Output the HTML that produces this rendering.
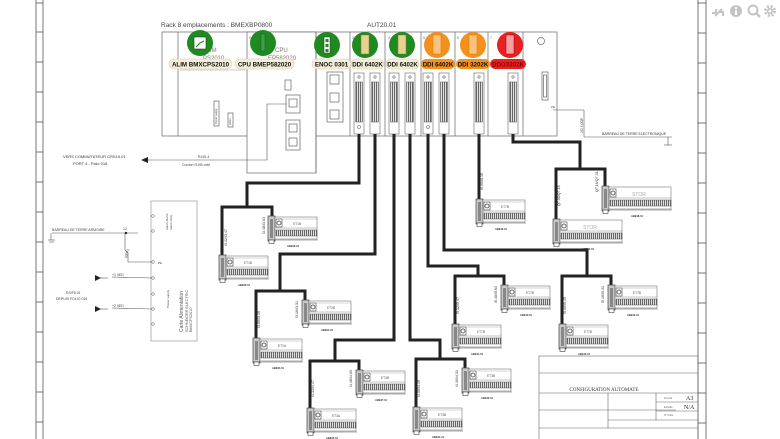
<!DOCTYPE html>
<html><head><meta charset="utf-8"><style>
html,body{margin:0;padding:0;background:#fff;}
svg{display:block;font-family:"Liberation Sans",sans-serif;}
</style></head><body>
<svg width="780" height="439" viewBox="0 0 780 439" xmlns="http://www.w3.org/2000/svg">
<defs>
<pattern id="hat" width="2" height="6" patternUnits="userSpaceOnUse"><rect width="2" height="6" fill="#fff"/><rect width="1.2" height="6" fill="#666"/></pattern>
<pattern id="hat2" width="10" height="2" patternUnits="userSpaceOnUse"><rect width="10" height="2" fill="#fff"/><rect width="10" height="1" fill="#888"/></pattern>
<symbol id="m" viewBox="0 0 50 28" width="50" height="28" overflow="visible">
<rect x="0" y="0" width="7" height="25" fill="#c8c8c8" stroke="#444" stroke-width="0.7"/>
<rect x="2" y="3" width="3" height="19" fill="#888"/>
<rect x="7" y="1" width="42" height="22" fill="#fff" stroke="#777" stroke-width="0.6"/>
<rect x="8" y="3" width="6" height="8" fill="#fff" stroke="#444" stroke-width="0.6"/>
<circle cx="11" cy="7" r="2" fill="none" stroke="#333" stroke-width="0.7"/>
<line x1="14" y1="3" x2="49" y2="3" stroke="#aaa" stroke-width="0.5"/>
<line x1="7" y1="12" x2="49" y2="12" stroke="#888" stroke-width="0.5"/>
<rect x="8" y="14" width="41" height="6" fill="url(#hat)" stroke="#555" stroke-width="0.5"/>
<line x1="0" y1="24" x2="50" y2="24" stroke="#555" stroke-width="0.6"/>
<rect x="1" y="24" width="5" height="3.5" fill="#fff" stroke="#444" stroke-width="0.6"/>
</symbol>
<symbol id="mw" viewBox="0 0 70 28" width="70" height="28" overflow="visible">
<rect x="0" y="0" width="7" height="25" fill="#c8c8c8" stroke="#444" stroke-width="0.7"/>
<rect x="2" y="3" width="3" height="19" fill="#888"/>
<rect x="7" y="1" width="62" height="22" fill="#fff" stroke="#777" stroke-width="0.6"/>
<rect x="8" y="3" width="6" height="8" fill="#fff" stroke="#444" stroke-width="0.6"/>
<circle cx="11" cy="7" r="2" fill="none" stroke="#333" stroke-width="0.7"/>
<line x1="7" y1="12" x2="69" y2="12" stroke="#888" stroke-width="0.5"/>
<rect x="8" y="14" width="61" height="6" fill="url(#hat)" stroke="#555" stroke-width="0.5"/>
<line x1="0" y1="24" x2="70" y2="24" stroke="#555" stroke-width="0.6"/>
<rect x="1" y="24" width="5" height="3.5" fill="#fff" stroke="#444" stroke-width="0.6"/>
</symbol>
</defs>

<!-- frame strips -->
<g stroke="#555" stroke-width="0.8" fill="none">
<line x1="36" y1="0" x2="36" y2="439"/><line x1="43" y1="0" x2="43" y2="439"/>
<line x1="36" y1="3" x2="43" y2="3"/><line x1="36" y1="32" x2="43" y2="32"/><line x1="36" y1="62" x2="43" y2="62"/><line x1="36" y1="92" x2="43" y2="92"/><line x1="36" y1="122" x2="43" y2="122"/><line x1="36" y1="152" x2="43" y2="152"/><line x1="36" y1="182" x2="43" y2="182"/><line x1="36" y1="212" x2="43" y2="212"/><line x1="36" y1="242" x2="43" y2="242"/><line x1="36" y1="272" x2="43" y2="272"/><line x1="36" y1="302" x2="43" y2="302"/><line x1="36" y1="332" x2="43" y2="332"/><line x1="36" y1="362" x2="43" y2="362"/><line x1="36" y1="392" x2="43" y2="392"/><line x1="36" y1="422" x2="43" y2="422"/>
<line x1="698" y1="0" x2="698" y2="439"/><line x1="706" y1="0" x2="706" y2="439"/>
<line x1="698" y1="3" x2="706" y2="3"/><line x1="698" y1="33" x2="706" y2="33"/><line x1="698" y1="63" x2="706" y2="63"/><line x1="698" y1="93" x2="706" y2="93"/><line x1="698" y1="123" x2="706" y2="123"/><line x1="698" y1="153" x2="706" y2="153"/><line x1="698" y1="183" x2="706" y2="183"/><line x1="698" y1="213" x2="706" y2="213"/><line x1="698" y1="243" x2="706" y2="243"/><line x1="698" y1="273" x2="706" y2="273"/><line x1="698" y1="303" x2="706" y2="303"/><line x1="698" y1="333" x2="706" y2="333"/><line x1="698" y1="363" x2="706" y2="363"/><line x1="698" y1="393" x2="706" y2="393"/><line x1="698" y1="423" x2="706" y2="423"/>
</g>

<!-- toolbar icons -->
<g fill="#c4c4c4" stroke="#c4c4c4">
<path d="M715 16 L722 9 M716 9 L716 13 L712 13 M719 12 L723 12 L723 16" stroke-width="2" fill="none"/>
<circle cx="736" cy="11" r="6" stroke="none"/>
<rect x="735" y="10" width="2" height="5" fill="#fff" stroke="none"/><rect x="735" y="7" width="2" height="2" fill="#fff" stroke="none"/>
<circle cx="753" cy="10" r="4.5" fill="none" stroke-width="2"/><line x1="756" y1="13" x2="760" y2="17" stroke-width="2.5"/>
<circle cx="770" cy="11" r="4.5" fill="none" stroke-width="3" stroke-dasharray="2 1.6"/><circle cx="770" cy="11" r="3" stroke="none"/><circle cx="770" cy="11" r="1.4" fill="#fff" stroke="none"/>
</g>

<!-- rack -->
<text x="161" y="27" font-size="6.5" fill="#444">Rack 8 emplacements : BMEXBP0800</text>
<text x="367" y="27" font-size="6.5" fill="#444">AUT20.01</text>
<g stroke="#666" stroke-width="0.7" fill="#fff">
<rect x="162" y="32" width="395" height="104"/>
<rect x="247" y="32" width="69" height="141"/>
<line x1="178" y1="32" x2="178" y2="136"/>
<line x1="316" y1="32" x2="316" y2="173"/>
<line x1="350" y1="32" x2="350" y2="136"/><line x1="385" y1="32" x2="385" y2="136"/><line x1="421" y1="32" x2="421" y2="136"/><line x1="455" y1="32" x2="455" y2="136"/><line x1="488" y1="32" x2="488" y2="136"/><line x1="523" y1="32" x2="523" y2="136"/>
<line x1="180" y1="70" x2="245" y2="70" stroke="#bbb"/>
<rect x="214" y="101" width="5" height="25"/><rect x="228" y="113" width="5" height="14"/>
<rect x="285" y="80" width="6" height="10"/>
<rect x="286" y="95" width="14" height="18"/><rect x="289" y="99" width="8" height="8"/>
<rect x="286" y="120" width="14" height="30"/><rect x="289" y="124" width="8" height="8"/><rect x="289" y="138" width="8" height="8"/>
<rect x="327" y="72" width="16" height="50"/><rect x="330" y="75" width="9" height="9"/><rect x="330" y="93" width="9" height="9"/><rect x="330" y="110" width="9" height="9"/>
<circle cx="541" cy="41" r="3.5"/>
<rect x="542" y="72" width="6" height="28"/><rect x="543.5" y="75" width="3" height="22"/>
</g>
<text x="217" y="124" font-size="2.6" fill="#444" transform="rotate(-90 217 124)">Power supply</text>
<text x="231" y="125" font-size="2.6" fill="#444" transform="rotate(-90 231 125)">Alarm</text>
<text x="210" y="52" font-size="6" fill="#777">IM</text>
<text x="203" y="60" font-size="6" fill="#777">PS2010</text>
<text x="275" y="52" font-size="6" fill="#777">CPU</text>
<text x="268" y="60" font-size="6" fill="#777">EP582020</text>
<g font-size="3.5" fill="#666"><text x="352" y="39">3</text><text x="388" y="39">4</text><text x="423" y="39">5</text><text x="457" y="39">6</text><text x="490" y="39">7</text><text x="318" y="39">2</text><text x="249" y="39">0</text></g>
<!-- slot connectors -->
<g stroke="#666" stroke-width="0.6" fill="#fff">
<g id="c"><rect x="354" y="73" width="10" height="61"/><rect x="355.5" y="82" width="7" height="40" fill="url(#hat)"/><circle cx="359" cy="77" r="1.2"/><circle cx="359" cy="127" r="1.5"/></g>
<rect x="370" y="73" width="10" height="61"/><rect x="371.5" y="82" width="7" height="40" fill="url(#hat)"/><circle cx="375" cy="77" r="1.2"/>
<rect x="389" y="73" width="10" height="61"/><rect x="390.5" y="82" width="7" height="40" fill="url(#hat)"/><circle cx="394" cy="77" r="1.2"/>
<rect x="405" y="73" width="10" height="61"/><rect x="406.5" y="82" width="7" height="40" fill="url(#hat)"/><circle cx="410" cy="77" r="1.2"/>
<rect x="423" y="73" width="10" height="61"/><rect x="424.5" y="82" width="7" height="40" fill="url(#hat)"/><circle cx="428" cy="77" r="1.2"/><circle cx="428" cy="127" r="1.5"/>
<rect x="439" y="73" width="10" height="61"/><rect x="440.5" y="82" width="7" height="40" fill="url(#hat)"/><circle cx="444" cy="77" r="1.2"/>
<rect x="474" y="73" width="10" height="61"/><rect x="475.5" y="82" width="7" height="40" fill="url(#hat)"/><circle cx="479" cy="77" r="1.2"/>
<rect x="508" y="73" width="10" height="61"/><rect x="509.5" y="82" width="7" height="40" fill="url(#hat)"/><circle cx="513" cy="77" r="1.2"/>
</g>
<!-- circles -->
<circle cx="200" cy="43" r="13" fill="#1f8a1f"/><rect x="194" y="37" width="12" height="12" fill="#fff" stroke="#333" stroke-width="0.6"/><path d="M196 47 L200 43 L204 41" stroke="#1f8a1f" stroke-width="1.2" fill="none"/>
<circle cx="263" cy="43" r="13" fill="#1f8a1f"/><rect x="261" y="34" width="4" height="17" fill="#3fa03f" stroke="#145" stroke-width="0.4"/>
<circle cx="327" cy="45" r="13" fill="#1f8a1f"/><rect x="324" y="37" width="6" height="16" fill="#fff" stroke="#333" stroke-width="0.5"/><rect x="325.5" y="39" width="3" height="3" fill="#1f8a1f"/><rect x="325.5" y="44" width="3" height="3" fill="#1f8a1f"/><rect x="325.5" y="49" width="3" height="3" fill="#1f8a1f"/>
<g fill="#e6d28c" stroke="#8a7a3a" stroke-width="0.5">
<circle cx="365" cy="45" r="13" fill="#1f8a1f" stroke="none"/><rect x="361" y="35" width="8" height="19"/>
<circle cx="402" cy="45" r="13" fill="#1f8a1f" stroke="none"/><rect x="398" y="35" width="8" height="19"/>
</g>
<g fill="#fbc27a" stroke="#c77a20" stroke-width="0.5">
<circle cx="437" cy="45" r="13" fill="#f5901a" stroke="none"/><rect x="433" y="35" width="8" height="19"/>
<circle cx="473" cy="45" r="13" fill="#f5901a" stroke="none"/><rect x="469" y="35" width="8" height="19"/>
</g>
<circle cx="510" cy="45" r="13" fill="#e82020"/><rect x="506" y="35" width="8" height="19" fill="#f8a0a0" stroke="#a00" stroke-width="0.5"/>
<!-- label pills -->
<g font-size="6.2" font-weight="bold" text-anchor="middle">
<rect x="169" y="59" width="63" height="10" rx="5" fill="#f4eed8" stroke="#d8cfa8" stroke-width="0.6"/><text x="200.5" y="66.5" fill="#111">ALIM BMXCPS2010</text>
<rect x="235" y="59" width="59" height="10" rx="5" fill="#f4eed8" stroke="#d8cfa8" stroke-width="0.6"/><text x="264.5" y="66.5" fill="#111">CPU BMEP582020</text>
<rect x="312" y="59" width="39" height="10" rx="5" fill="#f4eed8" stroke="#d8cfa8" stroke-width="0.6"/><text x="331.5" y="66.5" fill="#111">ENOC 0301</text>
<rect x="351" y="59" width="33" height="10" rx="5" fill="#f4eed8" stroke="#d8cfa8" stroke-width="0.6"/><text x="367.5" y="66.5" fill="#111">DDI 6402K</text>
<rect x="386" y="59" width="33" height="10" rx="5" fill="#f4eed8" stroke="#d8cfa8" stroke-width="0.6"/><text x="402.5" y="66.5" fill="#111">DDI 6402K</text>
<rect x="421" y="59" width="34" height="10" rx="5" fill="#f5901a"/><text x="438" y="66.5" fill="#111">DDI 6402K</text>
<rect x="456" y="59" width="34" height="10" rx="5" fill="#f5901a"/><text x="473" y="66.5" fill="#111">DDI 3202K</text>
<rect x="490" y="59" width="36" height="10" rx="5" fill="#e82020"/><text x="508" y="66.5" fill="#8a0000">DDO3202K</text>
</g>

<!-- earth electronics -->
<g stroke="#555" stroke-width="0.6" fill="none">
<line x1="553" y1="110" x2="584" y2="110"/><line x1="584" y1="110" x2="584" y2="137"/>
<line x1="584" y1="137" x2="672" y2="137"/><line x1="668" y1="137" x2="668" y2="145"/><line x1="664" y1="145" x2="672" y2="145"/>
</g>
<text x="551" y="108" font-size="3" fill="#444">PE</text>
<text x="583" y="133" font-size="3.5" fill="#444" transform="rotate(-90 583 133)">2G 4,0DP</text>
<text x="602" y="135" font-size="3.5" fill="#333">BARREAU DE TERRE ELECTRONIQUE</text>

<!-- RJ45 link -->
<g stroke="#555" stroke-width="0.6" fill="none">
<polyline points="287,104 267,104 267,160 148,160"/>
</g>
<path d="M141 160 L148 157 L148 163 Z" fill="#222"/>
<text x="63" y="158" font-size="4" fill="#333">VERS COMMUTATEUR CRS15.01</text>
<text x="73" y="165" font-size="4" fill="#333">PORT 4 - Folio 018</text>
<text x="198" y="158" font-size="3.5" fill="#444">RJ45-4</text>
<text x="182" y="166" font-size="3.5" fill="#444">Cordon RJ45 coté</text>

<!-- power box -->
<rect x="151" y="201" width="46" height="140" fill="#fff" stroke="#888" stroke-width="0.6"/>
<g fill="#fff" stroke="#555" stroke-width="0.5">
<circle cx="153" cy="216" r="1.3"/><circle cx="153" cy="231" r="1.3"/><circle cx="153" cy="262" r="1.3"/><circle cx="153" cy="278" r="1.3"/><circle cx="153" cy="294" r="1.3"/><circle cx="153" cy="309" r="1.3"/><circle cx="153" cy="324" r="1.3"/>
</g>
<g stroke="#555" stroke-width="0.6" fill="none">
<line x1="52" y1="233" x2="138" y2="233"/><line x1="51" y1="233" x2="51" y2="240"/><line x1="48" y1="240" x2="55" y2="240"/><line x1="49" y1="242" x2="54" y2="242"/>
<polyline points="125,233 125,250 128,253 128,262 152,262"/>
<line x1="96" y1="278" x2="108" y2="278"/><line x1="112" y1="277" x2="152" y2="278"/>
<line x1="96" y1="309" x2="108" y2="309"/><line x1="112" y1="308" x2="152" y2="309"/>
</g>
<circle cx="126" cy="233" r="1.2" fill="#222"/>
<path d="M95 275 L101 278 L95 281 Z" fill="#222"/><path d="M95 306 L101 309 L95 312 Z" fill="#222"/>
<text x="52" y="231" font-size="3.5" fill="#444">BARREAU DE TERRE ARMOIRE</text>
<text x="123" y="230" font-size="3.5" fill="#444">12</text>
<text x="117" y="255" font-size="3.5" fill="#444" transform="rotate(-75 124 250)">REP2</text>
<text x="112" y="276" font-size="3.5" fill="#444">+1 /IED</text>
<text x="112" y="307" font-size="3.5" fill="#444">+2 /IED</text>
<text x="66" y="294" font-size="3.5" fill="#444">ES/F8.01</text>
<text x="56" y="300" font-size="3.5" fill="#444">DEPUIS FOLIO 016</text>
<text x="158" y="264" font-size="3" fill="#444">PE</text>
<text x="168" y="230" font-size="3" fill="#444" transform="rotate(-90 168 230)">Alarm Alarm</text>
<text x="172" y="230" font-size="3" fill="#444" transform="rotate(-90 172 230)">Alarm relay</text>
<text x="169" y="308" font-size="3" fill="#444" transform="rotate(-90 169 308)">Power supply</text>
<text x="183" y="332" font-size="5" fill="#555" transform="rotate(-90 183 332)">Carte Alimentation</text>
<text x="188" y="332" font-size="3.8" fill="#555" transform="rotate(-90 188 332)">SCHNEIDER ELECTRIC</text>
<text x="192" y="332" font-size="3.8" fill="#555" transform="rotate(-90 192 332)">BMXCPS2010</text>

<!-- cables -->
<g stroke="#222" stroke-width="3" fill="none" stroke-linejoin="miter">
<polyline points="359,134 359,183 247,183 247,207"/><polyline points="222,258 222,207 272,207 272,218"/>
<polyline points="375,134 375,254 280,254 280,291"/><polyline points="256,341 256,291 305,291 305,302"/>
<polyline points="394,134 394,340 335,340 335,361"/><polyline points="310,410 310,361 359,361 359,372"/>
<polyline points="410,134 410,340 440,340 440,359"/><polyline points="416,409 416,359 465,359 465,370"/>
<polyline points="428,134 428,266 478,266 478,276"/><polyline points="455,326 455,276 504,276 504,287"/>
<polyline points="444,134 444,250 587,250 587,276"/><polyline points="562,326 562,276 611,276 611,287"/>
<polyline points="479,134 479,201"/>
<polyline points="513,134 513,142 580,142 580,169"/><polyline points="556,221 556,169 605,169 605,188"/>
</g>
<!-- cable labels -->
<g font-size="3.6" fill="#333">
<text transform="translate(227,246) rotate(-90)">I3,32/I3,47</text>
<text transform="translate(265,234) rotate(-90)">I3,48/I3,63</text>
<text transform="translate(260,328) rotate(-90)">I3,00/I3,15</text>
<text transform="translate(298,318) rotate(-90)">I3,16/I3,31</text>
<text transform="translate(314,397) rotate(-90)">I4,32/I4,47</text>
<text transform="translate(352,387) rotate(-90)">I4,48/I4,63</text>
<text transform="translate(420,397) rotate(-90)">I4,00/I4,15</text>
<text transform="translate(458,387) rotate(-90)">I4,16/I4,31</text>
<text transform="translate(459,314) rotate(-90)">I5,32/I5,47</text>
<text transform="translate(497,303) rotate(-90)">I5,48/I5,63</text>
<text transform="translate(566,314) rotate(-90)">I5,00/I5,15</text>
<text transform="translate(604,303) rotate(-90)">I5,16/I5,31</text>
<text transform="translate(483,190) rotate(-90)">I6,00/I6,15</text>
<text transform="translate(560,206) rotate(-90)">Q7,00/Q7,15</text>
<text transform="translate(598,192) rotate(-90)">Q7,16/Q7,31</text>
</g>
<!-- modules -->
<use href="#m" x="219" y="255"/><use href="#m" x="268" y="216"/>
<use href="#m" x="253" y="338"/><use href="#m" x="302" y="300"/>
<use href="#m" x="307" y="408"/><use href="#m" x="356" y="370"/>
<use href="#m" x="413" y="407"/><use href="#m" x="462" y="368"/>
<use href="#m" x="452" y="324"/><use href="#m" x="501" y="285"/>
<use href="#m" x="559" y="324"/><use href="#m" x="608" y="285"/>
<use href="#m" x="476" y="199"/>
<use href="#mw" x="553" y="219"/><use href="#mw" x="602" y="186"/>
<g font-size="3.2" fill="#555" text-anchor="middle">
<text x="248" y="264">ET1B</text><text x="297" y="225">ET1B</text>
<text x="282" y="347">ET2A</text><text x="331" y="309">ET2B</text>
<text x="336" y="417">ET3A</text><text x="385" y="379">ET3B</text>
<text x="442" y="416">ET3B</text><text x="491" y="377">ET3B</text>
<text x="481" y="333">ET7B</text><text x="530" y="294">ET7B</text>
<text x="588" y="333">ET7B</text><text x="637" y="294">ET7B</text>
<text x="505" y="208">ET7B</text>
<text x="590" y="229" font-size="5" fill="#aaa">STOR</text><text x="639" y="196" font-size="5" fill="#aaa">STOR</text>
</g>
<g font-size="2.6" fill="#333" text-anchor="middle" font-weight="bold">
<text x="244" y="286">ABE29.01</text><text x="293" y="247">ABE26.01</text>
<text x="278" y="369">ABE23.01</text><text x="327" y="331">ABE24.01</text>
<text x="332" y="439">ABE25.01</text><text x="381" y="401">ABE37.01</text>
<text x="438" y="438">ABE31.01</text><text x="487" y="399">ABE32.01</text>
<text x="477" y="355">ABE44.01</text><text x="526" y="316">ABE43.01</text>
<text x="584" y="355">ABE45.01</text><text x="633" y="316">ABE42.01</text>
<text x="501" y="230">ABE46.01</text>
<text x="588" y="250">ABE50.01</text><text x="637" y="217">ABE48.01</text>
</g>

<!-- title block -->
<g stroke="#666" stroke-width="0.6" fill="none">
<rect x="539" y="356" width="159" height="90"/>
<line x1="539" y1="373" x2="698" y2="373"/>
<line x1="539" y1="393" x2="698" y2="393"/>
<line x1="539" y1="410" x2="676" y2="410"/>
<line x1="608" y1="393" x2="608" y2="428"/>
<line x1="656" y1="393" x2="656" y2="420"/>
<line x1="656" y1="402" x2="698" y2="402"/>
<line x1="656" y1="411" x2="698" y2="411"/>
<line x1="608" y1="420" x2="698" y2="420"/>
<line x1="539" y1="428" x2="698" y2="428"/>
</g>
<text x="604" y="391" font-size="5" fill="#333" text-anchor="middle" font-family="Liberation Serif">CONFIGURATION AUTOMATE</text>
<text x="664" y="399" font-size="2.6" fill="#666">Format</text><text x="686" y="400" font-size="6" fill="#222" font-family="Liberation Serif">A3</text>
<text x="664" y="408" font-size="2.6" fill="#666">Echelle</text><text x="684" y="409" font-size="6" fill="#222" font-family="Liberation Serif">N/A</text>
<text x="664" y="416" font-size="2.6" fill="#666">N° Folio</text>
</svg>
</body></html>
